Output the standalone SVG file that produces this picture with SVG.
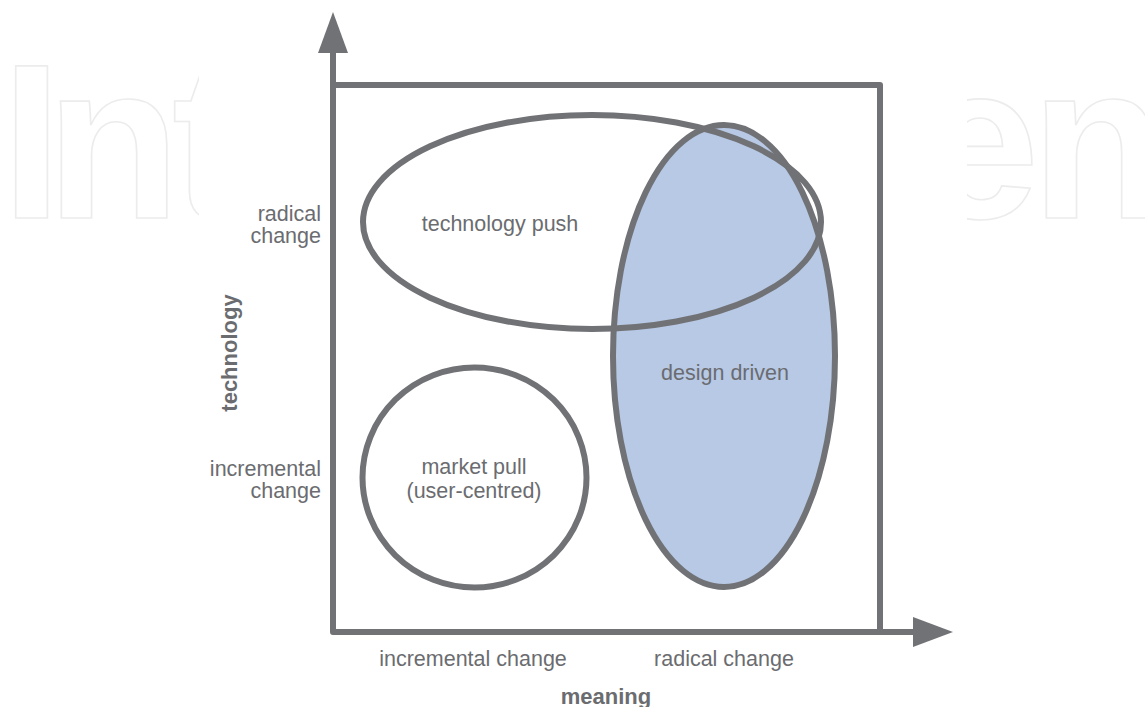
<svg xmlns="http://www.w3.org/2000/svg" width="1145" height="707" viewBox="0 0 1145 707">
<style>
.wm{font-family:"Liberation Sans",Arial,sans-serif;font-weight:bold;font-size:220px;fill:none;stroke:#ececec;stroke-width:1.6}
.ln{fill:none;stroke:#717276;stroke-width:6;stroke-linejoin:round}
.ah{fill:#717276;stroke:none}
.shape{stroke:#717276;stroke-width:6}
.t{font-family:"Liberation Sans",Arial,sans-serif;font-size:21.5px;fill:#6b6c70}
.b{font-family:"Liberation Sans",Arial,sans-serif;font-size:22px;font-weight:bold;fill:#6b6c70}
</style>
<rect x="0" y="0" width="1145" height="707" fill="#ffffff"/>
<g id="watermark">
<text class="wm" x="1 46 172" y="218">Int</text>
<text class="wm" x="917 1031" y="218">en</text>
<rect x="199" y="0" width="768" height="707" fill="#ffffff"/>
</g>
<g id="axes">
<path class="ln" d="M333,50 V632 H915"/>
<path class="ln" d="M333,85 H880 V632"/>
<polygon class="ah" points="333,12 318,53 348,53"/>
<polygon class="ah" points="953,632 913,617 913,647"/>
</g>
<g id="market-pull">
<ellipse class="shape" cx="474.5" cy="477.5" rx="112" ry="110" fill="#ffffff"/>
<text class="t" x="474" y="474" text-anchor="middle">market pull</text>
<text class="t" x="474" y="498" text-anchor="middle">(user-centred)</text>
</g>
<g id="design-driven">
<ellipse class="shape" cx="724" cy="356" rx="111" ry="231" fill="#b7c9e5"/>
<text class="t" x="725" y="380" text-anchor="middle">design driven</text>
</g>
<g id="technology-push">
<ellipse class="shape" cx="592" cy="222" rx="229" ry="107" fill="none"/>
<text class="t" x="500" y="231" text-anchor="middle">technology push</text>
</g>
<g id="labels">
<text class="t" x="321" y="221" text-anchor="end">radical</text>
<text class="t" x="321" y="243" text-anchor="end">change</text>
<text class="t" x="321" y="476" text-anchor="end">incremental</text>
<text class="t" x="321" y="498" text-anchor="end">change</text>
<text class="b" transform="translate(237,353) rotate(-90)" text-anchor="middle">technology</text>
<text class="t" x="473" y="666" text-anchor="middle">incremental change</text>
<text class="t" x="724" y="666" text-anchor="middle">radical change</text>
<text class="b" x="606" y="704" text-anchor="middle">meaning</text>
</g>
</svg>
